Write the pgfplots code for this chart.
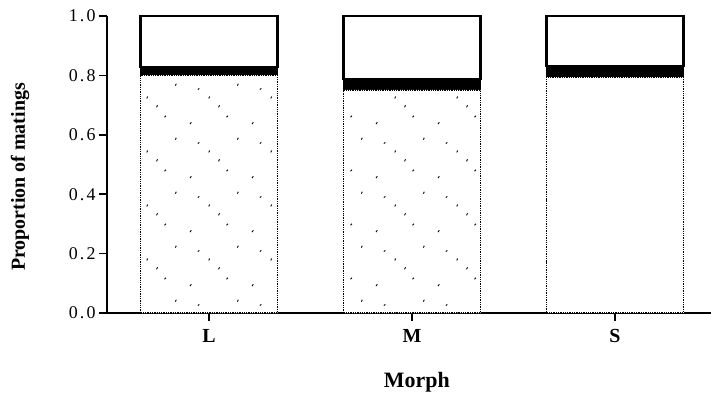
\documentclass[border=0pt]{standalone}
\usepackage{pgfplots}
\pgfplotsset{compat=1.18}
\usetikzlibrary{patterns}
\usepackage{fontspec}
\setmainfont{Liberation Serif}
\newfontfamily\tickfont[LetterSpace=12]{Liberation Serif}

\pgfdeclarepatternformonly{stipple}{\pgfpointorigin}{\pgfpoint{62bp}{54bp}}{\pgfpoint{62bp}{54bp}}{%
  \pgfsetlinewidth{0.9bp}%
  \pgfpathmoveto{\pgfpoint{4bp}{5bp}}\pgfpathlineto{\pgfpoint{5.4bp}{6.8bp}}%
  \pgfpathmoveto{\pgfpoint{23bp}{31bp}}\pgfpathlineto{\pgfpoint{24bp}{33bp}}%
  \pgfpathmoveto{\pgfpoint{41bp}{12bp}}\pgfpathlineto{\pgfpoint{42.6bp}{13.4bp}}%
  \pgfpathmoveto{\pgfpoint{52bp}{44bp}}\pgfpathlineto{\pgfpoint{53bp}{46bp}}%
  \pgfpathmoveto{\pgfpoint{12bp}{40bp}}\pgfpathlineto{\pgfpoint{13.5bp}{41.2bp}}%
  \pgfpathmoveto{\pgfpoint{33bp}{22bp}}\pgfpathlineto{\pgfpoint{34bp}{24bp}}%
  \pgfusepath{stroke}}

\begin{document}
\begin{tikzpicture}
\begin{axis}[
  scale only axis, width=604bp, height=297bp,
  at={(0,0)}, anchor=south west,
  xmin=-0.5025, xmax=2.473, ymin=0, ymax=1,
  axis x line*=bottom, axis y line*=left,
  axis line style={line width=1.8bp},
  xtick={0,1,2}, xticklabels={L,M,S},
  ytick={0,0.2,0.4,0.6,0.8,1.0},
  /pgf/number format/assume math mode=true,
  yticklabel style={/pgf/number format/fixed, /pgf/number format/fixed zerofill, /pgf/number format/precision=1},
  yticklabel style={font=\fontsize{18}{21}\selectfont\tickfont},
  xticklabel style={font=\fontsize{20}{24}\selectfont\bfseries, yshift=-5bp},
  tick align=outside, major tick length=8bp,
  tick style={line width=1.5bp, black},
  ybar stacked, bar width=0.675,
  clip=false,
  ylabel={Proportion of matings},
  ylabel style={font=\fontsize{20}{24}\selectfont\bfseries, at={(axis description cs:-0.144,0.458)}, anchor=center},
  xlabel={Morph},
  xlabel style={font=\fontsize{22}{26}\selectfont\bfseries, at={(axis description cs:0.513,-0.232)}, anchor=center},
]
% stippled lower segment (L, M)
\addplot[fill=white, draw=black, line width=1.3bp, densely dotted,
  postaction={pattern=stipple, pattern color=black}]
  coordinates {(0,0.801) (1,0.751) (2,0)};
% plain lower segment (S)
\addplot[fill=white, draw=black, line width=1.3bp, densely dotted]
  coordinates {(0,0) (1,0) (2,0.795)};
% black band
\addplot[fill=black, draw=black, line width=1.2bp]
  coordinates {(0,0.027) (1,0.037) (2,0.037)};
% white top
\addplot[fill=white, draw=black, line width=2.1bp]
  coordinates {(0,0.172) (1,0.212) (2,0.168)};
\end{axis}
\pgfresetboundingbox
\useasboundingbox (-107bp,-86bp) rectangle (604bp,313bp);
\end{tikzpicture}
\end{document}
